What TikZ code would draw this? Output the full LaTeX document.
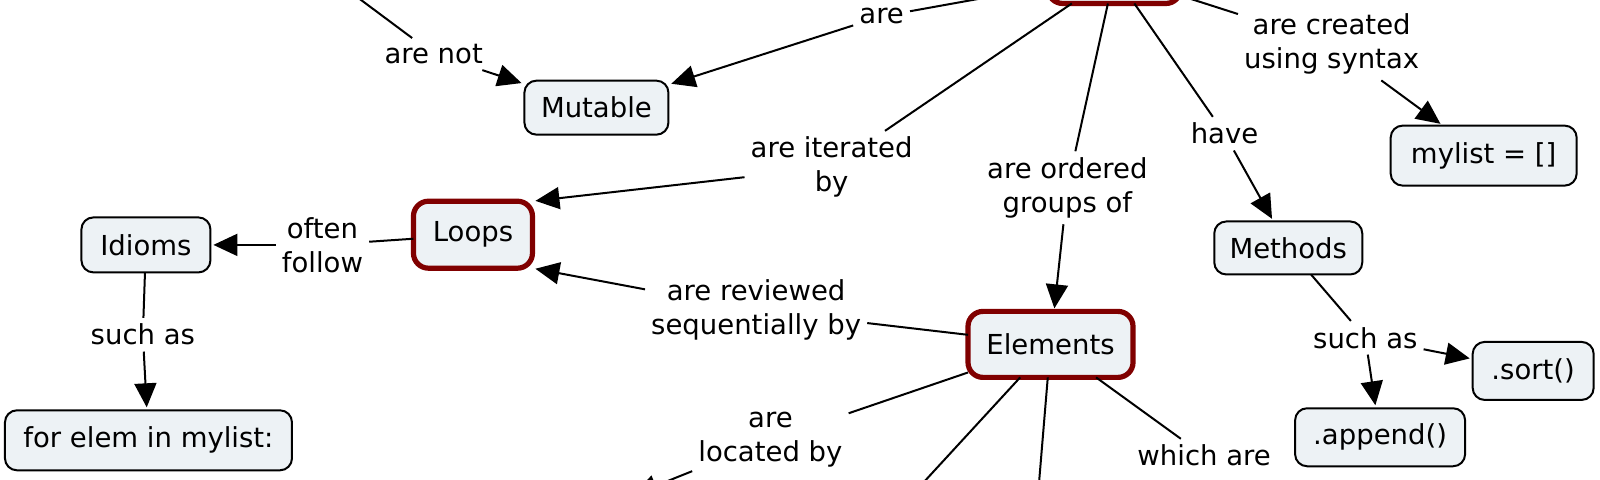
\documentclass[tikz,border=0pt]{standalone}
\usepackage{fontspec}
\setmainfont{DejaVu Sans}
\usetikzlibrary{arrows.meta}
\definecolor{boxfill}{HTML}{EDF2F5}
\definecolor{keyred}{HTML}{800000}
\begin{document}
\begin{tikzpicture}[x=1.0204pt,y=-1.0204pt,
  font=\fontsize{27.5}{34}\selectfont,
  concept/.style={draw=black, line width=2pt, fill=boxfill, rounded corners=12pt,
    inner sep=0pt, align=center, outer sep=0pt},
  keyconcept/.style={concept, draw=keyred, line width=5.2pt, rounded corners=15pt},
  lbl/.style={align=center, inner sep=6pt},
  link/.style={line width=2pt},
  arr/.style={link, -{Triangle[length=24pt,width=22pt]}, shorten >=3pt}]
\useasboundingbox (0,0) rectangle (1568,470);

% concepts
\node[keyconcept, minimum width=133pt, minimum height=58pt] (lists) at (1092,-25) {};
\node[concept, minimum width=144pt, minimum height=54pt] (mutable) at (584.5,105.5) {Mutable};
\node[concept, minimum width=186pt, minimum height=60pt] (mylist) at (1454,152.5) {mylist = []};
\node[concept, minimum width=148pt, minimum height=53pt] (methods) at (1262.5,243) {Methods};
\node[concept, minimum width=121pt, minimum height=58pt] (sort) at (1502.5,363.5) {.sort()};
\node[concept, minimum width=170pt, minimum height=58pt] (append) at (1352.5,428.5) {.append()};
\node[keyconcept, minimum width=165pt, minimum height=66pt] (elements) at (1029.5,337.5) {Elements};
\node[keyconcept, minimum width=119pt, minimum height=67pt] (loops) at (463.5,230) {Loops};
\node[concept, minimum width=129pt, minimum height=55pt] (idioms) at (143,240) {Idioms};
\node[concept, minimum width=287pt, minimum height=60pt] (forelem) at (145.5,431.5) {for elem in mylist:};

% linking phrases
\node[lbl] (are) at (864,16) {are};
\node[lbl] (arenot) at (425,53) {are not};
\node[lbl] (created) at (1305,43) {are created\\using syntax};
\node[lbl] (have) at (1200,131) {have};
\node[lbl] (ordered) at (1046,184) {are ordered\\groups of};
\node[lbl] (iterated) at (815,164) {are iterated\\by};
\node[lbl] (reviewed) at (741,304) {are reviewed\\sequentially by};
\node[lbl] (often) at (316,240) {often\\follow};
\node[lbl] (suchasA) at (140,328) {such as};
\node[lbl] (suchasB) at (1338,331) {such as};
\node[lbl] (located) at (755,431) {are\\located by};
\node[lbl, anchor=north] (which) at (1180,430) {which are};

% off-picture ends
\coordinate (offTL) at (280,-55);
\coordinate (offLoc) at (618,486);
\coordinate (offB1) at (880,500);
\coordinate (offB2) at (1016,500);

% connectors
\draw[link] (offTL) -- (arenot);
\draw[arr] (arenot) -- (mutable);
\draw[link] (lists) -- (are);
\draw[arr] (are) -- (mutable);
\draw[link] (lists) -- (created);
\draw[arr] (created) -- (mylist);
\draw[link] (lists) -- (have);
\draw[arr] (have) -- (methods);
\draw[link] (methods) -- (suchasB);
\draw[arr] (suchasB) -- (sort);
\draw[arr] (suchasB) -- (append);
\draw[link] (lists) -- (ordered);
\draw[arr] (ordered) -- (elements);
\draw[link] (lists) -- (iterated);
\draw[arr] (iterated) -- (loops.north east);
\draw[link] (elements) -- (reviewed);
\draw[arr] (reviewed) -- (loops.south east);
\draw[link] (loops) -- (often);
\draw[arr] (often) -- (idioms);
\draw[link] (idioms) -- (suchasA);
\draw[arr] (suchasA) -- (forelem);
\draw[link] (elements) -- (located);
\draw[arr] (located) -- (offLoc);
\draw[link] (elements) -- (offB1);
\draw[link] (elements) -- (offB2);
\draw[link] (elements) -- (which);
\end{tikzpicture}
\end{document}
